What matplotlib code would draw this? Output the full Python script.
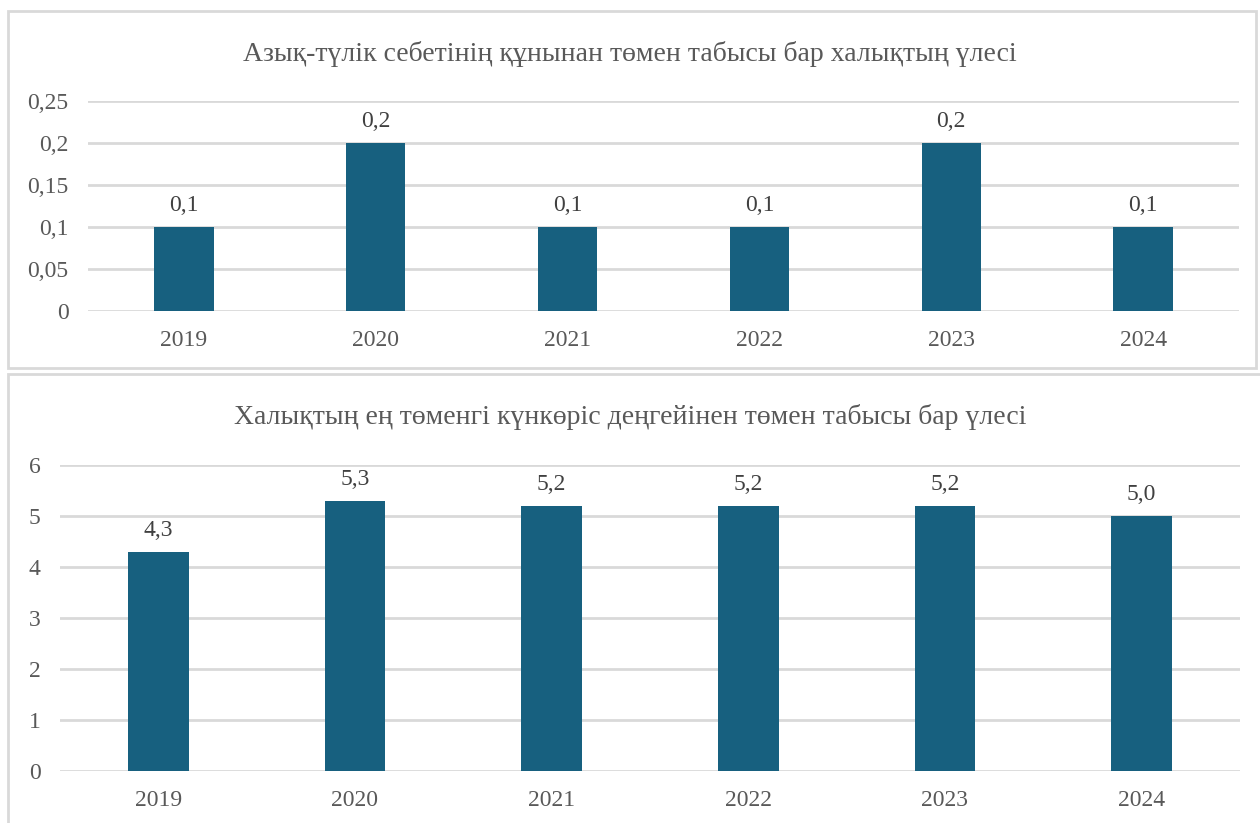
import matplotlib.pyplot as plt
from matplotlib.patches import Rectangle

# Data
years = ["2019", "2020", "2021", "2022", "2023", "2024"]
food_basket = [0.1, 0.2, 0.1, 0.1, 0.2, 0.1]
subsistence = [4.3, 5.3, 5.2, 5.2, 5.2, 5.0]
top_title = "Азық-түлік себетінің құнынан төмен табысы бар халықтың үлесі"
bottom_title = "Халықтың ең төменгі күнкөріс деңгейінен төмен табысы бар үлесі"
top_ticks = [0, 0.05, 0.1, 0.15, 0.2, 0.25]
top_ticklabels = ["0", "0,05", "0,1", "0,15", "0,2", "0,25"]
bottom_ticks = [0, 1, 2, 3, 4, 5, 6]

bar_color = "#17607f"
grid_color = "#d9d9d9"
text_color = "#595959"

plt.rcParams["font.family"] = ["Liberation Serif", "DejaVu Serif"]

W, H = 1260, 823
fig = plt.figure(figsize=(12.6, 8.23), dpi=100)


def px_axes(left, top, right, bottom):
    return fig.add_axes([left / W, 1 - bottom / H, (right - left) / W, (bottom - top) / H])


def style(ax, ymax):
    ax.set_ylim(0, ymax)
    ax.set_xlim(-0.5, len(years) - 0.5)
    for s in ax.spines.values():
        s.set_visible(False)
    ax.yaxis.grid(True, color=grid_color, linewidth=2)
    ax.set_axisbelow(True)
    ax.tick_params(length=0, colors=text_color, labelsize=17)
    ax.tick_params(axis="x", pad=14)
    ax.tick_params(axis="y", pad=14)


# Panel borders
fig.patches.append(Rectangle((8 / W, 1 - 368 / H), 1248 / W, 357 / H, transform=fig.transFigure,
                             fill=False, edgecolor=grid_color, linewidth=2))
fig.patches.append(Rectangle((8 / W, -0.05), 1300 / W, 1 - 374 / H + 0.05, transform=fig.transFigure,
                             fill=False, edgecolor=grid_color, linewidth=2))

# Top chart
ax1 = px_axes(88, 101, 1239, 311)
x = range(len(years))
ax1.bar(x, food_basket, width=0.31, color=bar_color)
style(ax1, 0.25)
ax1.set_xticks(list(x))
ax1.set_xticklabels(years)
ax1.set_yticks(top_ticks)
ax1.set_yticklabels(top_ticklabels)
for i, v in enumerate(food_basket):
    ax1.annotate(f"{v:.1f}".replace(".", ","), (i, v), xytext=(0, 8), textcoords="offset points",
                 ha="center", va="bottom", fontsize=17, color="#404040")
fig.text(0.5, 1 - 54 / H, top_title, ha="center", va="center", fontsize=20, color=text_color)

# Bottom chart
ax2 = px_axes(60, 465, 1240, 771)
ax2.bar(x, subsistence, width=0.31, color=bar_color)
style(ax2, 6)
ax2.set_xticks(list(x))
ax2.set_xticklabels(years)
ax2.set_yticks(bottom_ticks)
for i, v in enumerate(subsistence):
    ax2.annotate(f"{v:.1f}".replace(".", ","), (i, v), xytext=(0, 8), textcoords="offset points",
                 ha="center", va="bottom", fontsize=17, color="#404040")
fig.text(0.5, 1 - 417 / H, bottom_title, ha="center", va="center", fontsize=20, color=text_color)

plt.savefig("out.png", dpi=100)
